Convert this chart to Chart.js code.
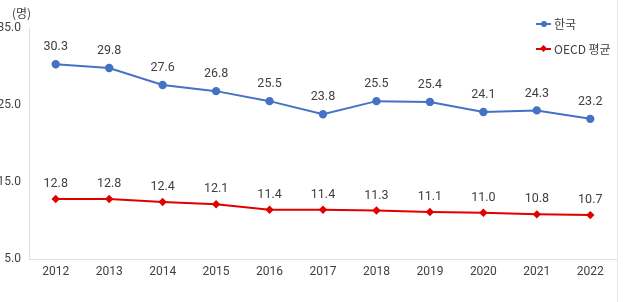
<!DOCTYPE html>
<html><head><meta charset="utf-8">
<script src="https://cdn.jsdelivr.net/npm/chart.js@4/dist/chart.umd.min.js"></script>
<style>
html,body{margin:0;padding:0;background:#fff;}
#wrap{position:relative;width:624px;height:302px;overflow:hidden;}
#unit{position:absolute;left:12px;top:4px;font:12px "Noto Sans CJK KR",sans-serif;color:#404040;}
.lg{position:absolute;left:536px;font:12px "Noto Sans CJK KR",sans-serif;color:#404040;display:flex;align-items:center;}
.lg span.m{position:relative;display:inline-block;width:15px;height:2px;margin-right:3px;}
.lg span.d{position:absolute;left:5px;top:-2px;width:6px;height:6px;border-radius:50%;}
#rb{position:absolute;left:617px;top:0;width:1px;height:302px;background:#e6e6e6;}
</style></head>
<body><div id="wrap"><canvas id="c" width="624" height="302"></canvas>
<div id="unit">(명)</div>
<div class="lg" style="top:15px"><span class="m" style="background:#4472C4"><span class="d" style="background:#4472C4"></span></span>한국</div>
<div class="lg" style="top:40px"><span class="m" style="background:#E00000"><span class="d" style="background:#E00000;border-radius:0;transform:rotate(45deg);width:5px;height:5px;left:5px;top:-1.5px"></span></span>OECD 평균</div>
<div id="rb"></div>
</div>
<script>
const years = ['2012','2013','2014','2015','2016','2017','2018','2019','2020','2021','2022'];
const korea = [30.3,29.8,27.6,26.8,25.5,23.8,25.5,25.4,24.1,24.3,23.2];
const oecd = [12.8,12.8,12.4,12.1,11.4,11.4,11.3,11.1,11.0,10.8,10.7];
const yTicks = [5,15,25,35];

const FONT = 'Roboto, "Noto Sans CJK KR", sans-serif';
const labelPlugin = {
  id:'labels',
  afterDatasetsDraw(chart){
    const ctx = chart.ctx;
    ctx.save();
    ctx.font = '12.5px ' + FONT;
    ctx.fillStyle = '#404040';
    ctx.textAlign = 'center';
    ctx.textBaseline = 'middle';
    chart.data.datasets.forEach((ds,i)=>{
      const meta = chart.getDatasetMeta(i);
      meta.data.forEach((pt,j)=>{
        ctx.fillText(ds.data[j].toFixed(1), pt.x, pt.y - (i===0?17:15));
      });
    });
    ctx.restore();
  }
};

new Chart(document.getElementById('c'), {
  type:'line',
  data:{labels:years, datasets:[
    {label:'한국', data:korea, borderColor:'#4472C4', backgroundColor:'#4472C4', borderWidth:2, pointRadius:3.2, pointStyle:'circle', tension:0},
    {label:'OECD 평균', data:oecd, borderColor:'#E00000', backgroundColor:'#E00000', borderWidth:2, pointRadius:2.8, pointStyle:'rectRot', tension:0}
  ]},
  options:{
    responsive:false, animation:false,
    layout:{padding:{top:28,right:7,left:0,bottom:0}},
    plugins:{legend:{display:false}, tooltip:{enabled:false}},
    scales:{
      x:{offset:true,
        grid:{display:false, drawTicks:false},
        border:{display:true,color:'#e0e0e0',width:1},
        ticks:{padding:6,color:'#404040',font:{size:12,family:FONT}},
        afterFit(s){s.height=43;}
      },
      y:{min:5,max:35,
        afterBuildTicks(s){s.ticks = yTicks.map(v=>({value:v}));},
        grid:{display:false, drawTicks:false},
        border:{display:true,color:'#e0e0e0',width:1},
        ticks:{padding:8,color:'#404040',font:{size:12,family:FONT},callback:v=>v.toFixed(1)},
        afterFit(s){s.width=29;}
      }
    }
  },
  plugins:[labelPlugin]
});
</script></body></html>
